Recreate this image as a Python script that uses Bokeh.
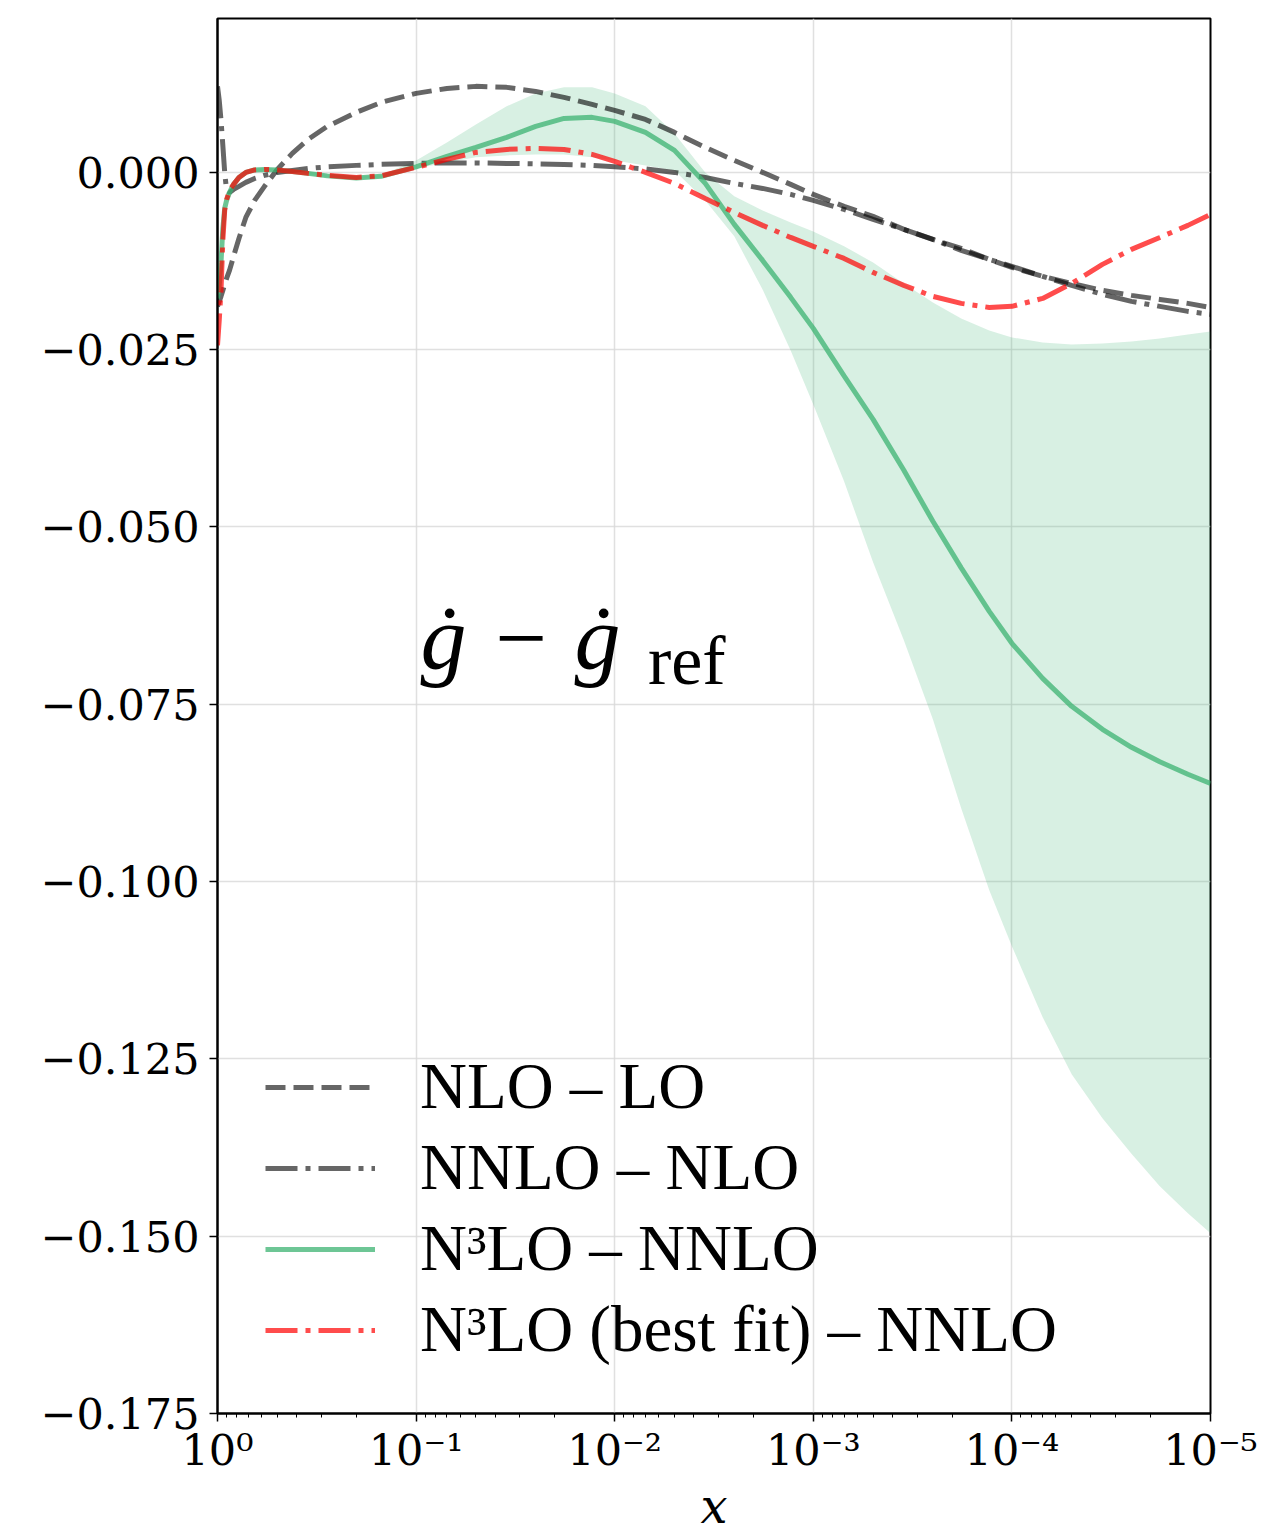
from bokeh.plotting import figure
from bokeh.models import Range1d, FixedTicker, Legend, LegendItem, Label, ColumnDataSource
from bokeh.embed import file_html
from bokeh.resources import INLINE

# ---------------- data ----------------
x = [1.0, 0.98, 0.96, 0.94, 0.92, 0.90, 0.87, 0.83, 0.78, 0.72, 0.65, 0.58, 0.5, 0.42,
     0.35, 0.28, 0.2, 0.15, 0.1, 0.07, 0.05, 0.035, 0.025, 0.018, 0.013, 0.01, 0.007,
     0.005, 0.0035, 0.0025, 0.0018, 0.0013, 0.001, 7e-4, 5e-4, 3.5e-4, 2.5e-4, 1.8e-4,
     1.3e-4, 1e-4, 7e-5, 5e-5, 3.5e-5, 2.5e-5, 1.8e-5, 1.3e-5, 1e-5]

nlo_lo = [-0.01889, -0.01819, -0.01748, -0.01664, -0.01579, -0.01495, -0.01382, -0.01184,
          -0.00931, -0.00635, -0.00395, -0.00197, 0.00042, 0.00268, 0.00465, 0.00649,
          0.00846, 0.00987, 0.01114, 0.01184, 0.01213, 0.01199, 0.01142, 0.01058, 0.00959,
          0.00874, 0.00747, 0.00564, 0.00353, 0.00169, 0.0, -0.00169, -0.00310, -0.00479,
          -0.00620, -0.00804, -0.00945, -0.01072, -0.01227, -0.01340, -0.01466, -0.01565,
          -0.01664, -0.01734, -0.01791, -0.01847, -0.01904]

nnlo_nlo = [0.01213, 0.01015, 0.00733, 0.00381, 0.0, -0.00254, -0.00282, -0.00240,
            -0.00197, -0.00141, -0.00085, -0.00042, 0.0, 0.00028, 0.00056, 0.00078,
            0.00099, 0.00113, 0.00127, 0.00134, 0.00134, 0.00127, 0.00120, 0.00113,
            0.00099, 0.00078, 0.00049, 0.0, -0.00071, -0.00155, -0.00226, -0.00310,
            -0.00395, -0.00522, -0.00663, -0.00804, -0.00945, -0.01100, -0.01227,
            -0.01325, -0.01466, -0.01593, -0.01720, -0.01819, -0.01889, -0.01960, -0.02002]

n3lo_nnlo = [-0.01777, -0.01593, -0.01269, -0.00790, -0.00508, -0.00395, -0.00282, -0.00169,
             -0.00071, 0.0, 0.00035, 0.00042, 0.00035, 0.00014, -0.00014, -0.00049,
             -0.00078, -0.00056, 0.00078, 0.00226, 0.00353, 0.00494, 0.00649, 0.00761,
             0.00776, 0.00719, 0.00564, 0.00310, -0.00155, -0.00733, -0.01241, -0.01762,
             -0.02199, -0.02869, -0.03482, -0.04201, -0.04920, -0.05576, -0.06189,
             -0.06640, -0.07134, -0.07529, -0.07853, -0.08107, -0.08311, -0.08487, -0.08615]

n3lo_upper = [-0.01757, -0.01573, -0.01249, -0.00770, -0.00488, -0.00375, -0.00262, -0.00149,
              -0.00051, 0.00020, 0.00055, 0.00062, 0.00055, 0.00034, 0.00006, -0.00029,
              -0.00058, -0.00036, 0.00169, 0.00423, 0.00677, 0.00931, 0.01114, 0.01199,
              0.01199, 0.01114, 0.00931, 0.00550, 0.0, -0.00338, -0.00536, -0.00705,
              -0.00832, -0.01043, -0.01269, -0.01565, -0.01833, -0.02059, -0.02228,
              -0.02327, -0.02397, -0.02425, -0.02411, -0.02383, -0.02341, -0.02284, -0.02242]

n3lo_lower = [-0.01797, -0.01613, -0.01289, -0.00810, -0.00528, -0.00415, -0.00302, -0.00189,
              -0.00091, -0.00020, 0.00015, 0.00022, 0.00015, -0.00006, -0.00034, -0.00069,
              -0.00098, -0.00076, 0.00056, 0.00141, 0.00212, 0.00240, 0.00254, 0.00254,
              0.00212, 0.00169, 0.00099, 0.00028, -0.00395, -0.00902, -0.01650, -0.02510,
              -0.03271, -0.04356, -0.05498, -0.06598, -0.07712, -0.08967, -0.10123,
              -0.10912, -0.11913, -0.12717, -0.13337, -0.13838, -0.14296, -0.14677, -0.14959]

n3lo_best = [-0.02439, -0.02087, -0.01664, -0.00959, -0.00536, -0.00381, -0.00254, -0.00169,
             -0.00071, 0.0, 0.00035, 0.00042, 0.00035, 0.00014, -0.00014, -0.00042,
             -0.00071, -0.00049, 0.00071, 0.00183, 0.00282, 0.00324, 0.00338, 0.00324,
             0.00254, 0.00155, 0.0, -0.00155, -0.00367, -0.00564, -0.00747, -0.00917,
             -0.01043, -0.01213, -0.01410, -0.01593, -0.01748, -0.01847, -0.01904,
             -0.01889, -0.01777, -0.01565, -0.01297, -0.01086, -0.00917, -0.00747, -0.00592]

labels = ["NLO \u2013 LO", "NNLO \u2013 NLO", "N\u00b3LO \u2013 NNLO",
          "N\u00b3LO (best fit) \u2013 NNLO"]

x_ticks = [1.0, 0.1, 0.01, 0.001, 1e-4, 1e-5]
x_tick_labels = ["10\u2070", "10\u207b\u00b9", "10\u207b\u00b2", "10\u207b\u00b3", "10\u207b\u2074", "10\u207b\u2075"]
x_minor = [m * d for d in [0.1, 0.01, 0.001, 1e-4, 1e-5] for m in range(2, 10)]
y_ticks = [-0.175, -0.15, -0.125, -0.1, -0.075, -0.05, -0.025, 0.0]
y_tick_labels = ["\u22120.175", "\u22120.150", "\u22120.125", "\u22120.100", "\u22120.075",
                 "\u22120.050", "\u22120.025", "0.000"]

# ---------------- figure ----------------
src = ColumnDataSource(dict(x=x, a=nlo_lo, b=nnlo_nlo, c=n3lo_nnlo, lo=n3lo_lower,
                            hi=n3lo_upper, d=n3lo_best))

p = figure(x_axis_type="log", x_range=Range1d(1.0, 1e-5), y_range=Range1d(-0.175, 0.0217),
           frame_width=993, frame_height=1395,
           min_border_left=217, min_border_right=48, min_border_top=18, min_border_bottom=112,
           output_backend="svg", toolbar_location=None)
p.background_fill_color = "white"
p.border_fill_color = "white"
p.outline_line_color = "black"
p.outline_line_width = 2
p.outline_line_alpha = 1

green = "#3cb371"
p.varea(x="x", y1="lo", y2="hi", source=src, fill_color=green, fill_alpha=0.2)
r1 = p.line("x", "a", source=src, line_color="black", line_alpha=0.6, line_width=5,
            line_dash="20 8")
r2 = p.line("x", "b", source=src, line_color="black", line_alpha=0.6, line_width=5,
            line_dash="32 8 5 8")
r3 = p.line("x", "c", source=src, line_color=green, line_alpha=0.75, line_width=5)
r4 = p.line("x", "d", source=src, line_color="red", line_alpha=0.7, line_width=5,
            line_dash="32 8 5 8")

# axes
p.xaxis.ticker = FixedTicker(ticks=x_ticks, minor_ticks=x_minor)
p.xaxis.major_label_overrides = dict(zip(x_ticks, x_tick_labels))
p.yaxis.ticker = FixedTicker(ticks=y_ticks)
p.yaxis.major_label_overrides = dict(zip(y_ticks, y_tick_labels))
for ax in (p.xaxis, p.yaxis):
    ax.axis_line_width = 2
    ax.axis_line_color = "black"
    ax.major_tick_line_width = 1.5
    ax.major_tick_line_color = "black"
    ax.major_tick_out = 8
    ax.major_tick_in = 0
    ax.minor_tick_out = 4
    ax.minor_tick_in = 0
    ax.minor_tick_line_width = 1
    ax.minor_tick_line_color = "black"
    ax.major_label_text_font = "DejaVu Serif"
    ax.major_label_text_color = "black"
p.yaxis.minor_tick_line_color = None
p.yaxis.major_label_text_font_size = "43px"
p.yaxis.major_label_standoff = 10
p.xaxis.major_label_text_font_size = "43px"
p.xaxis.major_label_standoff = 3
p.xaxis.axis_label = "x"
p.xaxis.axis_label_text_font = "DejaVu Serif"
p.xaxis.axis_label_text_font_style = "italic"
p.xaxis.axis_label_text_font_size = "48px"
p.xaxis.axis_label_standoff = 0
p.xaxis.axis_label_text_color = "black"

p.xgrid.ticker = FixedTicker(ticks=x_ticks)
p.ygrid.ticker = FixedTicker(ticks=y_ticks)
p.grid.grid_line_color = "#d8d8d8"
p.grid.grid_line_width = 1.5
p.grid.grid_line_alpha = 0.8

# annotation
p.add_layout(Label(x=0.095, y=-0.0657, text="\u0121 \u2212 \u0121", text_font="Liberation Serif",
                   text_font_style="italic", text_font_size="92px", text_color="black",
                   text_baseline="alphabetic"))
p.add_layout(Label(x=0.0068, y=-0.0688, text="ref", text_font="Liberation Serif",
                   text_font_size="70px", text_color="black", text_baseline="alphabetic"))

# legend
legend = Legend(items=[LegendItem(label=labels[0], renderers=[r1]),
                       LegendItem(label=labels[1], renderers=[r2]),
                       LegendItem(label=labels[2], renderers=[r3]),
                       LegendItem(label=labels[3], renderers=[r4])],
                location=(48, 46))
legend.label_text_font = "Liberation Serif"
legend.label_text_font_size = "65px"
legend.label_text_color = "black"
legend.glyph_width = 110
legend.glyph_height = 72
legend.label_height = 72
legend.label_standoff = 45
legend.spacing = 6
legend.padding = 0
legend.margin = 0
legend.border_line_alpha = 0
legend.background_fill_alpha = 0
p.add_layout(legend)

open("out.html", "w").write(file_html(p, INLINE))
